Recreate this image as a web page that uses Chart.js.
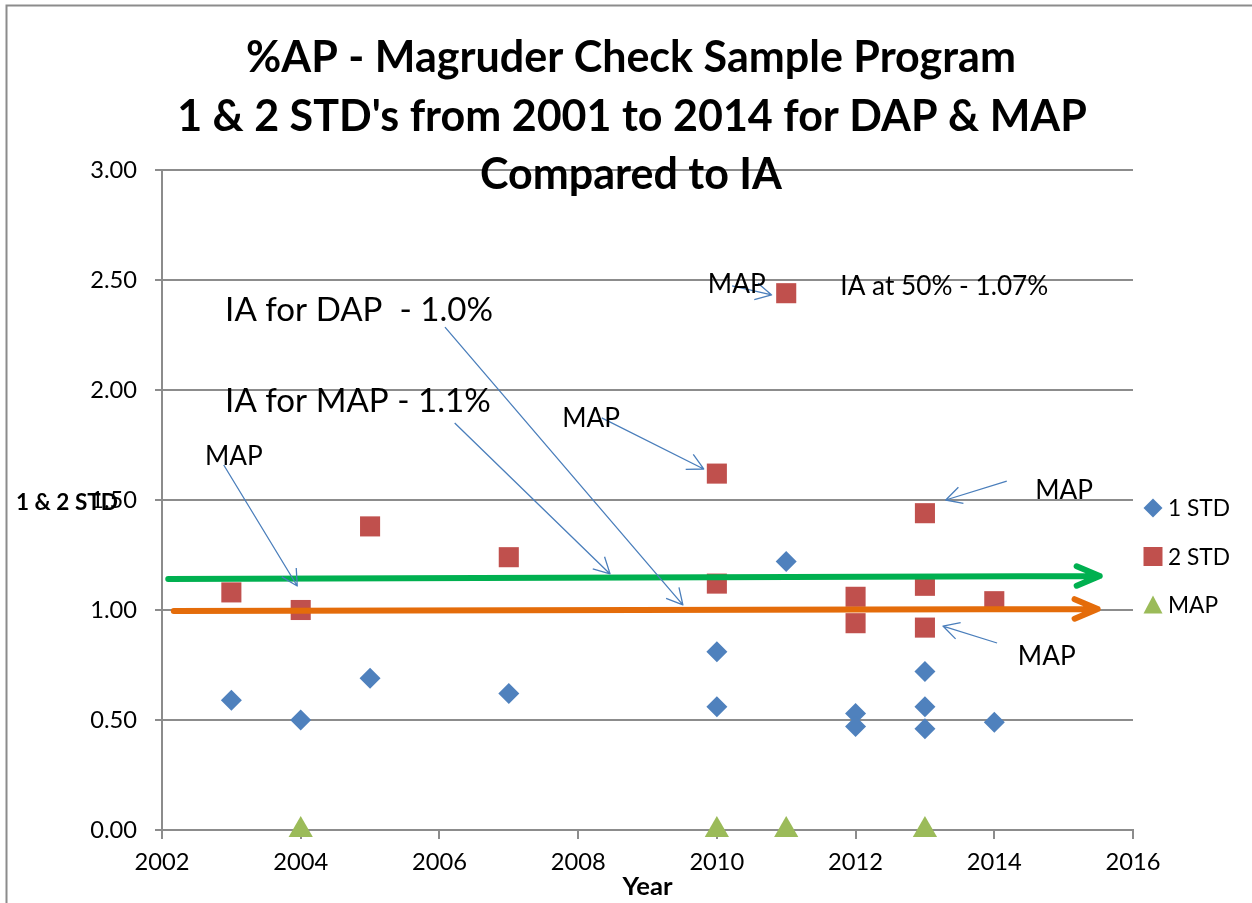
<!DOCTYPE html>
<html>
<head>
<meta charset="utf-8">
<script src="https://cdn.jsdelivr.net/npm/chart.js@4.4.1/dist/chart.umd.min.js"></script>
<style>
  html, body { margin: 0; padding: 0; background: #fff; }
  canvas { display: block; }
</style>
</head>
<body>
<canvas id="chart" width="1252" height="903"></canvas>
<script>
// ---- data ----
const std1Years = [2003, 2004, 2005, 2007, 2010, 2010, 2011, 2012, 2012, 2013, 2013, 2013, 2014];
const std1Values = [0.59, 0.50, 0.69, 0.62, 0.81, 0.56, 1.22, 0.53, 0.47, 0.72, 0.56, 0.46, 0.49];
const std2Years = [2003, 2004, 2005, 2007, 2010, 2010, 2011, 2012, 2012, 2013, 2013, 2013, 2014];
const std2Values = [1.08, 1.00, 1.38, 1.24, 1.62, 1.12, 2.44, 1.06, 0.94, 1.44, 1.11, 0.92, 1.04];
const mapYears = [2004, 2010, 2011, 2013];
const mapValues = [0, 0, 0, 0];
const seriesNames = ["1 STD", "2 STD", "MAP"];
const xTicks = [2002, 2004, 2006, 2008, 2010, 2012, 2014, 2016];
const yTicks = [0, 0.5, 1.0, 1.5, 2.0, 2.5, 3.0];

const titleLines = ["%AP - Magruder Check Sample Program",
                    "1 & 2 STD's from 2001 to 2014 for DAP & MAP",
                    "Compared to IA"];

// IA reference arrows (start / end in year, value)
const iaMapLine = [[2002.09, 1.141], [2015.52, 1.155]];
const iaDapLine = [[2002.17, 0.995], [2015.49, 1.005]];

// callout texts and pointers, in year / value units
const bigNotes = [["IA for DAP  - 1.0%", 2002.91, 2.314], ["IA for MAP - 1.1%", 2002.91, 1.900]];
const smallNotes = [["MAP", 2002.62, 1.659], ["MAP", 2007.77, 1.832], ["MAP", 2009.87, 2.441],
                    ["IA at 50% - 1.07%", 2011.78, 2.432], ["MAP", 2014.59, 1.505], ["MAP", 2014.34, 0.75]];
const pointers = [
  [2006.08, 2.286, 2009.51, 1.023],
  [2006.22, 1.850, 2008.46, 1.164],
  [2002.89, 1.659, 2003.95, 1.109],
  [2008.34, 1.873, 2009.81, 1.641],
  [2010.22, 2.473, 2010.79, 2.432],
  [2014.18, 1.586, 2013.30, 1.500],
  [2014.04, 0.850, 2013.26, 0.927]
];

const FONT = "Lato, 'Noto Sans', sans-serif";
const blue = "#4F81BD", red = "#C0504D", green = "#9BBB59";
const gridGray = "#8c8c8c";

// pick font sizes so the texts are as wide as in the reference
const measCtx = document.createElement("canvas").getContext("2d");
function fitSize(text, weight, width) {
  measCtx.font = weight + " 100px " + FONT;
  return 100 * width / measCtx.measureText(text).width;
}
const titleSize = fitSize(titleLines[1], "bold", 910);
const bigSize = fitSize(bigNotes[0][0], "normal", 268);
const noteSize = fitSize("IA at 50% - 1.07%", "normal", 208);
const tickSize = fitSize("2002", "normal", 55);
const legendSize = fitSize("1 STD", "normal", 62);
const yTitleSize = fitSize("1 & 2 STD", "bold", 102);
const xTitleSize = fitSize("Year", "bold", 50);

function toPoints(xs, ys) {
  return xs.map((x, i) => ({ x: x, y: ys[i] }));
}

function drawArrow(ctx, x0, y0, x1, y1, len, ang) {
  const a = Math.atan2(y1 - y0, x1 - x0);
  ctx.beginPath();
  ctx.moveTo(x0, y0);
  ctx.lineTo(x1, y1);
  ctx.moveTo(x1 - len * Math.cos(a - ang), y1 - len * Math.sin(a - ang));
  ctx.lineTo(x1, y1);
  ctx.lineTo(x1 - len * Math.cos(a + ang), y1 - len * Math.sin(a + ang));
  ctx.stroke();
}

function drawMarker(ctx, style, x, y, r) {
  ctx.beginPath();
  if (style === "rectRot") {
    ctx.moveTo(x - r, y); ctx.lineTo(x, y - r); ctx.lineTo(x + r, y); ctx.lineTo(x, y + r);
  } else if (style === "rect") {
    ctx.rect(x - r, y - r, 2 * r, 2 * r);
  } else {
    ctx.moveTo(x, y - r); ctx.lineTo(x + r, y + r * 0.9); ctx.lineTo(x - r, y + r * 0.9);
  }
  ctx.closePath();
  ctx.fill();
}

const decorPlugin = {
  id: "decor",
  afterDatasetsDraw(chart) {
    const { ctx, scales: { x, y } } = chart;
    const px = v => x.getPixelForValue(v);
    const py = v => y.getPixelForValue(v);
    ctx.save();
    ctx.lineCap = "round";
    ctx.lineJoin = "round";
    // big IA arrows
    ctx.lineWidth = 6;
    ctx.strokeStyle = "#00B050";
    drawArrow(ctx, px(iaMapLine[0][0]), py(iaMapLine[0][1]), px(iaMapLine[1][0]), py(iaMapLine[1][1]), 25, 0.40);
    ctx.strokeStyle = "#E46C0A";
    drawArrow(ctx, px(iaDapLine[0][0]), py(iaDapLine[0][1]), px(iaDapLine[1][0]), py(iaDapLine[1][1]), 25, 0.40);
    // thin pointers
    ctx.lineWidth = 1.3;
    ctx.lineCap = "butt";
    ctx.strokeStyle = "#4A7EBB";
    pointers.forEach(p => drawArrow(ctx, px(p[0]), py(p[1]), px(p[2]), py(p[3]), 18, 0.49));
    // callout texts
    ctx.fillStyle = "#000";
    ctx.textAlign = "left";
    ctx.textBaseline = "alphabetic";
    ctx.font = bigSize + "px " + FONT;
    bigNotes.forEach(n => ctx.fillText(n[0], px(n[1]), py(n[2])));
    ctx.font = noteSize + "px " + FONT;
    smallNotes.forEach(n => ctx.fillText(n[0], px(n[1]), py(n[2])));
    ctx.restore();
  },
  afterDraw(chart) {
    const { ctx } = chart;
    ctx.save();
    // outer frame
    ctx.strokeStyle = gridGray;
    ctx.lineWidth = 2;
    ctx.beginPath();
    ctx.moveTo(6.5, 903);
    ctx.lineTo(6.5, 5.5);
    ctx.lineTo(1252, 5.5);
    ctx.stroke();
    // title
    ctx.fillStyle = "#000";
    ctx.textAlign = "center";
    ctx.textBaseline = "alphabetic";
    ctx.font = "bold " + titleSize + "px " + FONT;
    ctx.fillText(titleLines[0], 631, 72);
    ctx.fillText(titleLines[1], 632, 131);
    ctx.fillText(titleLines[2], 631, 189);
    // y axis title (sits over the tick labels, as in the original)
    ctx.textAlign = "left";
    ctx.font = "bold " + yTitleSize + "px " + FONT;
    ctx.fillText("1 & 2 STD", 16, 510);
    // legend
    ctx.textBaseline = "middle";
    ctx.font = legendSize + "px " + FONT;
    chart.data.datasets.forEach((ds, i) => {
      const ly = 508 + i * 48.5;
      ctx.fillStyle = ds.backgroundColor;
      drawMarker(ctx, ds.pointStyle, 1153, ly, 9.5);
      ctx.fillStyle = "#000";
      ctx.fillText(ds.label, 1168, ly + 1);
    });
    ctx.restore();
  }
};

new Chart(document.getElementById("chart"), {
  type: "scatter",
  data: {
    datasets: [
      { label: seriesNames[0], data: toPoints(std1Years, std1Values), pointStyle: "rectRot",
        pointRadius: 10.5, backgroundColor: blue, borderColor: blue, borderWidth: 0, clip: false },
      { label: seriesNames[1], data: toPoints(std2Years, std2Values), pointStyle: "rect",
        pointRadius: 14.2, backgroundColor: red, borderColor: red, borderWidth: 0, clip: false },
      { label: seriesNames[2], data: toPoints(mapYears, mapValues), pointStyle: "triangle",
        pointRadius: 14, backgroundColor: green, borderColor: green, borderWidth: 0, clip: false }
    ]
  },
  options: {
    responsive: false,
    animation: false,
    events: [],
    layout: { padding: { top: 170, left: 0, right: 119, bottom: 0 } },
    plugins: { legend: { display: false }, tooltip: { enabled: false }, title: { display: false } },
    scales: {
      x: {
        type: "linear",
        min: 2002,
        max: 2016,
        afterBuildTicks: s => { s.ticks = xTicks.map(v => ({ value: v })); },
        afterFit: s => { s.height = 73; },
        ticks: { color: "#000", font: { family: FONT, size: tickSize }, padding: 9,
                 callback: v => String(v), maxRotation: 0 },
        grid: { drawOnChartArea: false, drawTicks: true, tickLength: 9, color: gridGray, lineWidth: 2 },
        border: { color: gridGray, width: 2 },
        title: { display: true, text: "Year", color: "#000",
                 font: { family: FONT, size: xTitleSize, weight: "bold" }, padding: { top: 0, bottom: 1 } }
      },
      y: {
        min: 0,
        max: 3,
        afterBuildTicks: s => { s.ticks = yTicks.map(v => ({ value: v })); },
        afterFit: s => { s.width = 162; },
        ticks: { color: "#000", font: { family: FONT, size: tickSize }, padding: 18,
                 callback: v => Number(v).toFixed(2) },
        grid: { drawOnChartArea: true, drawTicks: true, tickLength: 7, color: gridGray, lineWidth: 2 },
        border: { color: gridGray, width: 2 }
      }
    }
  },
  plugins: [decorPlugin]
});
</script>
</body>
</html>
